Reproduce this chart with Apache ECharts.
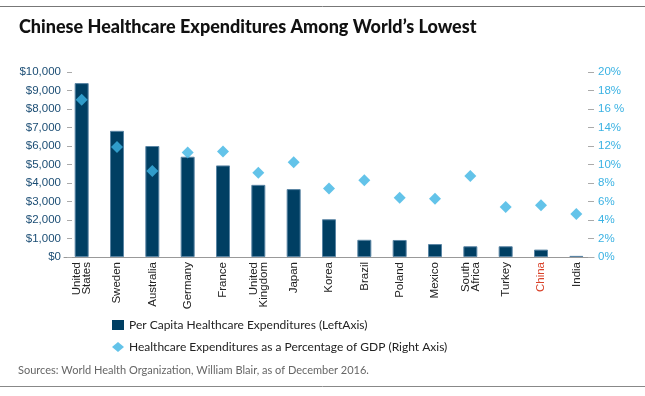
<!DOCTYPE html>
<html>
<head>
<meta charset="utf-8">
<script src="https://cdn.jsdelivr.net/npm/echarts@6/dist/echarts.min.js"></script>
<style>
  html, body { margin: 0; padding: 0; background: #fff; }
  #chart { width: 645px; height: 396px; }
</style>
</head>
<body>
<div id="chart"></div>
<script>
// data
const categories = ['United\nStates', 'Sweden', 'Australia', 'Germany', 'France', 'United\nKingdom', 'Japan', 'Korea', 'Brazil', 'Poland', 'Mexico', 'South\nAfrica', 'Turkey', 'China', 'India']
const perCapita = [9400, 6820, 6000, 5420, 4950, 3900, 3670, 2040, 930, 920, 700, 580, 580, 400, 60]
const gdpPercent = [17.0, 11.9, 9.3, 11.3, 11.4, 9.1, 10.25, 7.4, 8.3, 6.4, 6.3, 8.75, 5.4, 5.6, 4.65]
const leftTicks = ['$0', '$1,000', '$2,000', '$3,000', '$4,000', '$5,000', '$6,000', '$7,000', '$8,000', '$9,000', '$10,000']
const rightTicks = ['0%', '2%', '4%', '6%', '8%', '10%', '12%', '14%', '16 %', '18%', '20%']

const barName = 'Per Capita Healthcare Expenditures (LeftAxis)'
const dotName = 'Healthcare Expenditures as a Percentage of GDP (Right Axis)'

const LATO = 'Lato, "Liberation Sans", sans-serif'
const SANS = '"Liberation Sans", Arial, sans-serif'

const chart = echarts.init(document.getElementById('chart'))

chart.setOption({
  animation: false,
  backgroundColor: '#fff',
  title: {
    text: 'Chinese Healthcare Expenditures Among World’s Lowest',
    left: 19,
    top: 18,
    padding: 0,
    textStyle: { fontFamily: LATO, fontSize: 18, fontWeight: 900, color: '#111' },
  },
  legend: {
    orient: 'vertical',
    left: 112,
    top: 318,
    padding: 0,
    itemGap: 8,
    itemWidth: 12,
    itemHeight: 10,
    selectedMode: false,
    textStyle: { fontFamily: LATO, fontSize: 12, color: '#222', lineHeight: 14 },
    data: [
      { name: barName, icon: 'rect', itemStyle: { borderWidth: 0 } },
      { name: dotName, icon: 'diamond' },
    ],
  },
  grid: { left: 64, right: 51, top: 72, bottom: 139 },
  xAxis: {
    type: 'category',
    data: categories,
    axisLine: { lineStyle: { color: '#999', width: 1 } },
    axisTick: { show: false },
    axisLabel: {
      interval: 0,
      rotate: 90,
      margin: 5,
      fontFamily: SANS,
      fontSize: 11,
      lineHeight: 10,
      color: (value) => (value === 'China' ? '#d9432b' : '#222'),
      fontWeight: (value) => (value === 'China' ? 'bold' : 'normal'),
    },
  },
  yAxis: [
    {
      type: 'value',
      min: 0,
      max: 10000,
      interval: 1000,
      offset: -8,
      splitLine: { show: false },
      axisLine: { show: false },
      axisTick: { show: true, length: 5, lineStyle: { color: '#aaa' } },
      axisLabel: {
        margin: 11,
        fontFamily: SANS,
        fontSize: 11.5,
        color: '#1b4d74',
        formatter: (v) => leftTicks[Math.round(v / 1000)],
      },
    },
    {
      type: 'value',
      min: 0,
      max: 20,
      interval: 2,
      splitLine: { show: false },
      axisLine: { show: false },
      axisTick: { show: true, inside: true, length: 6, lineStyle: { color: '#aaa' } },
      axisLabel: {
        margin: 4,
        fontFamily: SANS,
        fontSize: 11.5,
        color: '#3ab2e3',
        formatter: (v) => rightTicks[Math.round(v / 2)],
      },
    },
  ],
  series: [
    {
      name: barName,
      type: 'bar',
      yAxisIndex: 0,
      data: perCapita,
      barWidth: 14,
      itemStyle: { color: '#003f63', borderColor: '#5a85a4', borderWidth: 1 },
    },
    {
      name: dotName,
      type: 'scatter',
      yAxisIndex: 1,
      data: gdpPercent,
      symbol: 'diamond',
      symbolSize: 12,
      itemStyle: { color: '#3cb4e4' },
      z: 5,
    },
  ],
  graphic: [
    { type: 'line', shape: { x1: 0, y1: 6.5, x2: 645, y2: 6.5 }, style: { stroke: '#777', lineWidth: 1 } },
    { type: 'line', shape: { x1: 0, y1: 386.5, x2: 645, y2: 386.5 }, style: { stroke: '#888', lineWidth: 1 } },
    {
      type: 'text',
      left: 18,
      top: 365,
      style: {
        text: 'Sources: World Health Organization, William Blair, as of December 2016.',
        fontFamily: LATO,
        fontSize: 11,
        fill: '#666',
      },
    },
  ],
})
</script>
</body>
</html>
